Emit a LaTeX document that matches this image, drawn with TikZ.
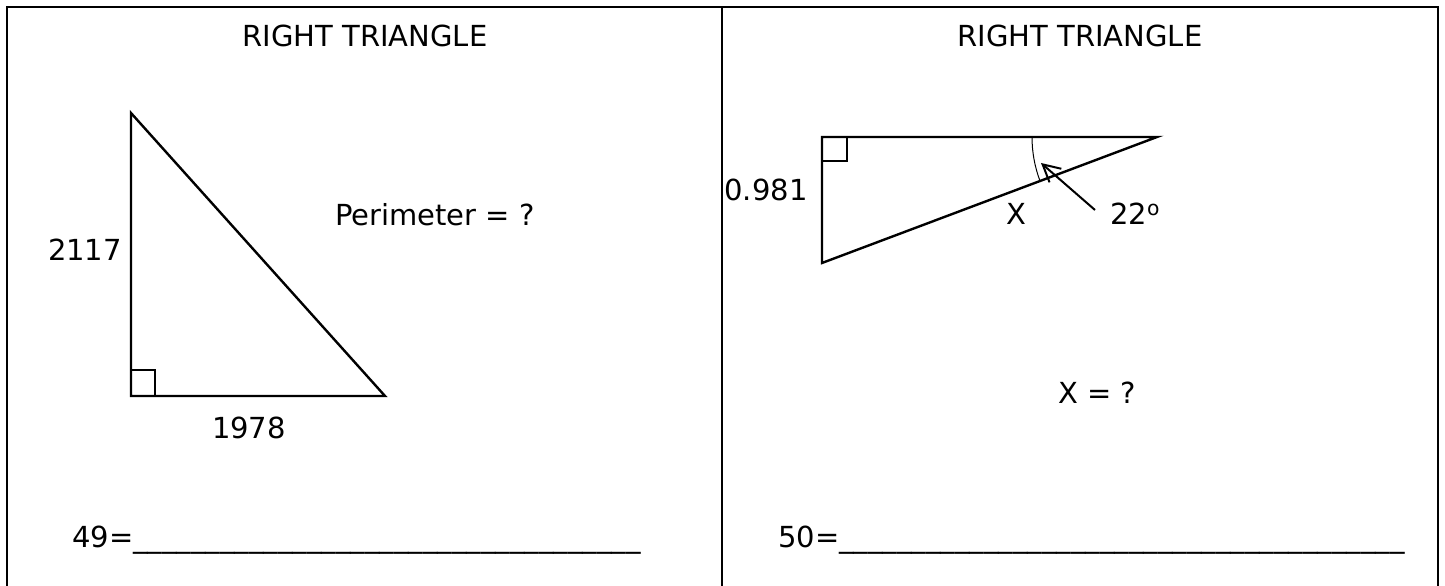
\documentclass[tikz,border=0pt]{standalone}
\usepackage{fontspec}
\setmainfont{DejaVu Sans}
\usetikzlibrary{arrows.meta}

\tikzset{
  side/.style={line width=2.4pt, line join=miter},
  lbl/.style={inner sep=0pt, anchor=base},
}
\newcommand{\blanks}[1]{\foreach \k in {1,...,#1}{\_}}

\begin{document}
\begin{tikzpicture}[x=1pt, y=1pt, font=\fontsize{29}{35}\selectfont]
    \useasboundingbox (0,0) rectangle (1445,586);

    % Frame of the two cells
    \draw[line width=1.5pt] (7,0) -- (7,579) -- (1438,579) -- (1438,0);
    \draw[line width=1.5pt] (722,0) -- (722,579);

    % Left cell: perimeter
    \node[lbl] (title1) at (365,539) {RIGHT TRIANGLE};
    \coordinate (a) at (131,473);
    \coordinate (b) at (131,190);
    \coordinate (c) at (385,190);
    \draw[side] (a) -- (b) -- (c) -- cycle;
    \draw[line width=2pt] (b) rectangle ++(24,26);

    \node[lbl] (len2117) at (85,325) {2117};
    \node[lbl] (len1978) at (249,147) {1978};
    \node[lbl] (perim) at (435,360) {Perimeter = ?};
    \node[lbl, anchor=base west] (ans49) at (72,38) {49=\blanks{35}};

    % Right cell: hypotenuse
    \node[lbl] (title2) at (1080,539) {RIGHT TRIANGLE};
    \coordinate (p) at (822,449);
    \coordinate (q) at (1157,449);
    \coordinate (r) at (822,323);
    \draw[side] (p) -- (q) -- (r) -- cycle;
    \draw[line width=2pt] (p) rectangle ++(25,-24);

    % Angle mark and pointer
    \draw[line width=1pt] (q) ++(-125,0) arc[start angle=180, end angle=200.6, radius=125];
    \coordinate (tail) at (1095,376);
    \coordinate (tip) at (1041,423);
    \draw[line width=2pt, -{Straight Barb[length=17pt, width=18pt]}] (tail) -- (tip);

    \node[lbl] (len0981) at (766,385) {0.981};
    \node[lbl] (hypx) at (1016,361) {X};
    \node[lbl, anchor=base west] (ang22) at (1110,361) {22\textsuperscript{o}};
    \node[lbl] (askx) at (1097,182) {X = ?};
    \node[lbl, anchor=base west] (ans50) at (778,38) {50=\blanks{39}};
\end{tikzpicture}
\end{document}
